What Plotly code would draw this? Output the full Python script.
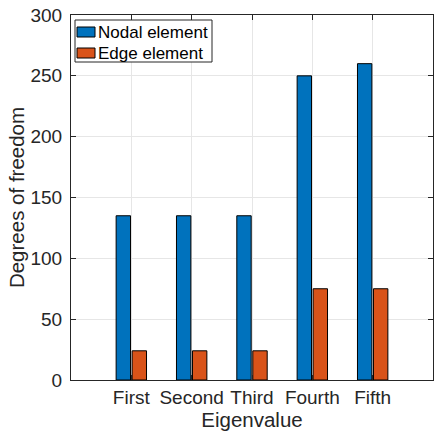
import plotly.graph_objects as go

categories = ["First", "Second", "Third", "Fourth", "Fifth"]
nodal_dof = [135, 135, 135, 250, 260]
edge_dof = [24, 24, 24, 75, 75]
y_ticks = [0, 50, 100, 150, 200, 250, 300]

series = [
    ("Nodal element", nodal_dof, "#0072BD"),
    ("Edge element", edge_dof, "#D95319"),
]

FONT = "Liberation Sans, Arial, sans-serif"
AXIS = "#262626"

W, H = 434, 436
ML, MR, MT, MB = 71, 1, 15, 56
PW, PH = W - ML - MR, H - MT - MB


def px_x(p):
    return (p - ML) / PW


def px_y(p):
    return (H - MB - p) / PH


fig = go.Figure()
for name, vals, color in series:
    fig.add_trace(go.Bar(
        x=categories, y=vals, name=name, showlegend=False,
        marker=dict(color=color, line=dict(color="#000000", width=1)),
    ))

# Compact boxed legend in the upper-left corner of the axes
shapes = [dict(type="rect", xref="paper", yref="paper",
               x0=px_x(75), x1=px_x(212), y0=px_y(62), y1=px_y(20),
               line=dict(color=AXIS, width=1), fillcolor="white", layer="above")]
annotations = []
for i, (name, _, color) in enumerate(series):
    cy = 32 + i * 21
    shapes.append(dict(type="rect", xref="paper", yref="paper",
                       x0=px_x(77), x1=px_x(95), y0=px_y(cy + 5), y1=px_y(cy - 5),
                       line=dict(color="#000000", width=1), fillcolor=color,
                       layer="above"))
    annotations.append(dict(xref="paper", yref="paper", x=px_x(96), y=px_y(cy),
                            xanchor="left", yanchor="middle", showarrow=False,
                            text=name, font=dict(size=17, color="#000000")))

fig.update_layout(
    width=W, height=H,
    margin=dict(l=ML, r=MR, t=MT, b=MB),
    plot_bgcolor="white", paper_bgcolor="white",
    barmode="group", bargap=0.47, bargroupgap=0.1,
    font=dict(family=FONT, size=19, color=AXIS),
    showlegend=False,
    shapes=shapes,
    annotations=annotations,
    xaxis=dict(
        type="category", range=[-1, 5],
        showline=True, linecolor=AXIS, linewidth=1, mirror="allticks",
        ticks="inside", ticklen=5, tickcolor=AXIS,
        showgrid=True, gridcolor="#e6e6e6", gridwidth=1,
        tickfont=dict(size=19, color=AXIS), ticklabelstandoff=0,
        title=dict(text="Eigenvalue", font=dict(size=20.5, color=AXIS), standoff=1),
    ),
    yaxis=dict(
        range=[0, 300], tickvals=y_ticks,
        showline=True, linecolor=AXIS, linewidth=1, mirror="allticks",
        ticks="inside", ticklen=5, tickcolor=AXIS,
        showgrid=True, gridcolor="#e6e6e6", gridwidth=1,
        zeroline=False,
        tickfont=dict(size=19, color=AXIS), ticklabelstandoff=4,
        title=dict(text="Degrees of freedom", font=dict(size=20.5, color=AXIS), standoff=0),
    ),
)

fig.write_html("out.html")
